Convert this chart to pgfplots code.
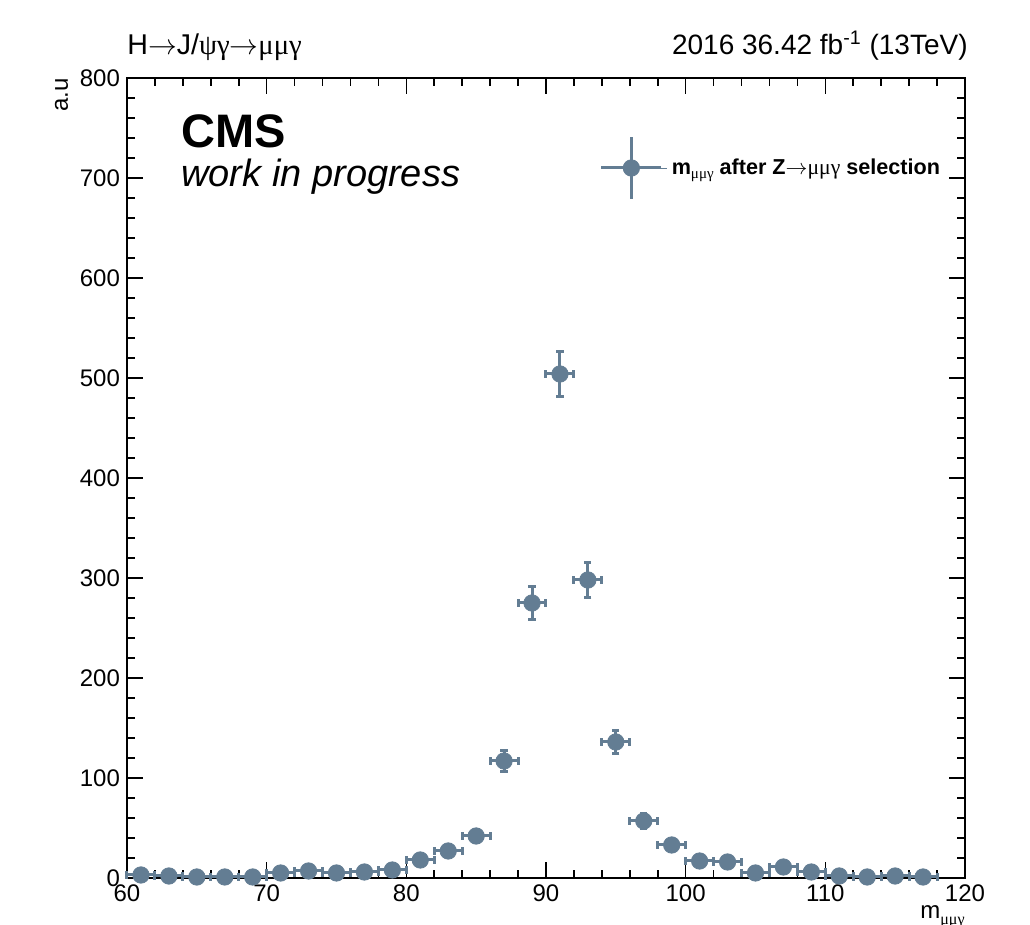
\documentclass[border=0pt]{standalone}
\usepackage{fontspec}
\setmainfont{Liberation Sans}
\newfontfamily\sym{Liberation Serif}
\usepackage{pgfplots}
\usepackage{pgfplotstable}
\pgfplotsset{compat=1.18}
\definecolor{pts}{RGB}{99,125,147}
\newcommand{\arr}{\ensuremath{\rightarrow}}

% bin centre, count, half bin width, statistical error
\pgfplotstableread{
x    y    ex  ey
61   3    1   1.7
63   2    1   1.4
65   1    1   1.0
67   1    1   1.0
69   1    1   1.0
71   5    1   2.2
73   7    1   2.6
75   5    1   2.2
77   6    1   2.4
79   8    1   2.8
81   18   1   4.2
83   27   1   5.2
85   42   1   6.5
87   117  1   10.8
89   275  1   16.6
91   504  1   22.4
93   298  1   17.3
95   136  1   11.7
97   57   1   7.5
99   33   1   5.7
101  17   1   4.1
103  16   1   4.0
105  5    1   2.2
107  11   1   3.3
109  6    1   2.4
111  2    1   1.4
113  1    1   1.0
115  2    1   1.4
117  1    1   1.0
}\mmgdata

\begin{document}
\begin{tikzpicture}[x=1pt,y=1pt]
\useasboundingbox (0,0) rectangle (515,462.5);
\begin{axis}[
  at={(63.5pt,23.5pt)}, anchor=south west,
  width=419pt, height=400pt, scale only axis,
  xmin=60, xmax=120, ymin=0, ymax=800,
  xtick distance=10, ytick distance=100,
  minor x tick num=4, minor y tick num=4,
  tick align=inside, xtick pos=both, ytick pos=both,
  major tick length=8pt, minor tick length=4pt,
  axis line style={line width=1pt},
  every tick/.style={black, line width=0.8pt},
  ticklabel style={font=\fontsize{12}{14}\selectfont},
  /pgf/number format/assume math mode=true,
  clip=false,
  legend style={draw=none, fill=none, at={(axis cs:93.4,710)}, anchor=west,
    font=\bfseries\fontsize{10.8}{12}\selectfont},
  legend image code/.code={
    \path (0pt,0pt) -- (33pt,0pt);
    \draw[pts, line width=1.5pt] (0pt,0pt) -- (30pt,0pt);
    \draw[pts, line width=1.5pt] (15pt,-15.5pt) -- (15pt,15.5pt);
    \fill[pts] (15pt,0pt) circle (4.1pt);
  },
]
\addplot[only marks, mark=*, mark size=4.1pt, color=pts,
  error bars/.cd, x dir=both, x explicit, y dir=both, y explicit,
  error bar style={line width=1.5pt, pts},
  error mark options={rotate=90, mark size=1.8pt, line width=1.5pt, pts}]
  table[x=x, y=y, x error=ex, y error=ey] {\mmgdata};
\addlegendentry{m\raisebox{-0.4ex}{\mdseries\sym\fontsize{7.5}{7.5}\selectfont μμγ} after Z\arr{\mdseries\sym μμγ} selection}

% headers and labels
\node[anchor=base west, inner sep=0pt, font=\fontsize{14.3}{16}\selectfont] at ([yshift=11.5pt]rel axis cs:0,1) {H\arr J/{\sym ψγ}\arr{\sym μμγ}};
\node[anchor=base east, inner sep=0pt, font=\fontsize{14}{16}\selectfont] at ([yshift=11.5pt, xshift=1.5pt]rel axis cs:1,1) {2016 36.42 fb\textsuperscript{-1} (13TeV)};
\node[anchor=base west, inner sep=0pt, font=\bfseries\fontsize{23.5}{26}\selectfont] at ([xshift=27pt, yshift=-35pt]rel axis cs:0,1) {CMS};
\node[anchor=base west, inner sep=0pt, font=\itshape\fontsize{19}{22}\selectfont] at ([xshift=27pt, yshift=-54.5pt]rel axis cs:0,1) {work in progress};
\node[anchor=base east, inner sep=0pt, font=\fontsize{12}{14}\selectfont] at ([yshift=-20.5pt]rel axis cs:1,0) {m\raisebox{-0.4ex}{\sym\fontsize{8}{8}\selectfont μμγ}};
\node[anchor=base east, rotate=90, inner sep=0pt, font=\fontsize{12}{14}\selectfont] at ([xshift=-29.5pt]rel axis cs:0,1) {a.u};
\end{axis}
\end{tikzpicture}
\end{document}
